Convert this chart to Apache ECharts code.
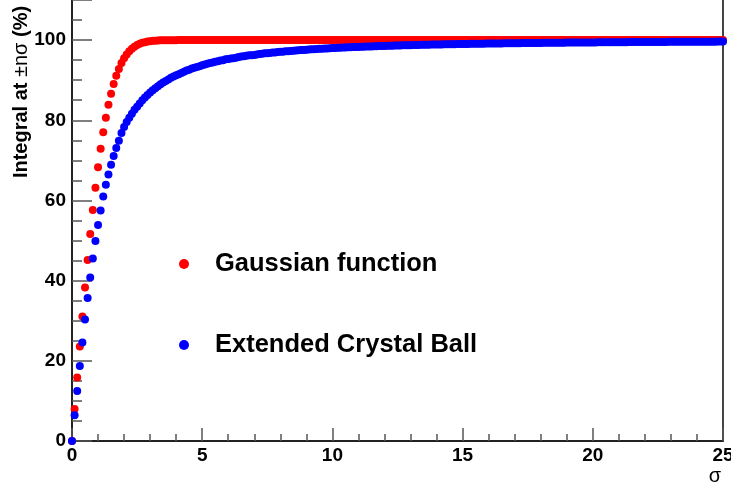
<!DOCTYPE html>
<html>
<head>
<meta charset="utf-8">
<script src="https://cdn.jsdelivr.net/npm/echarts@6/dist/echarts.min.js"></script>
<style>
  html, body { margin: 0; padding: 0; background: #fff; }
  #chart { width: 731px; height: 490px; }
</style>
</head>
<body>
<div id="chart"></div>
<script>
// n (in units of sigma), step 0.1
const sigma = [
  0, 0.1, 0.2, 0.3, 0.4, 0.5, 0.6, 0.7, 0.8, 0.9, 1,
  1.1, 1.2, 1.3, 1.4, 1.5, 1.6, 1.7, 1.8, 1.9, 2,
  2.1, 2.2, 2.3, 2.4, 2.5, 2.6, 2.7, 2.8, 2.9, 3,
  3.1, 3.2, 3.3, 3.4, 3.5, 3.6, 3.7, 3.8, 3.9, 4,
  4.1, 4.2, 4.3, 4.4, 4.5, 4.6, 4.7, 4.8, 4.9, 5,
  5.1, 5.2, 5.3, 5.4, 5.5, 5.6, 5.7, 5.8, 5.9, 6,
  6.1, 6.2, 6.3, 6.4, 6.5, 6.6, 6.7, 6.8, 6.9, 7,
  7.1, 7.2, 7.3, 7.4, 7.5, 7.6, 7.7, 7.8, 7.9, 8,
  8.1, 8.2, 8.3, 8.4, 8.5, 8.6, 8.7, 8.8, 8.9, 9,
  9.1, 9.2, 9.3, 9.4, 9.5, 9.6, 9.7, 9.8, 9.9, 10,
  10.1, 10.2, 10.3, 10.4, 10.5, 10.6, 10.7, 10.8, 10.9, 11,
  11.1, 11.2, 11.3, 11.4, 11.5, 11.6, 11.7, 11.8, 11.9, 12,
  12.1, 12.2, 12.3, 12.4, 12.5, 12.6, 12.7, 12.8, 12.9, 13,
  13.1, 13.2, 13.3, 13.4, 13.5, 13.6, 13.7, 13.8, 13.9, 14,
  14.1, 14.2, 14.3, 14.4, 14.5, 14.6, 14.7, 14.8, 14.9, 15,
  15.1, 15.2, 15.3, 15.4, 15.5, 15.6, 15.7, 15.8, 15.9, 16,
  16.1, 16.2, 16.3, 16.4, 16.5, 16.6, 16.7, 16.8, 16.9, 17,
  17.1, 17.2, 17.3, 17.4, 17.5, 17.6, 17.7, 17.8, 17.9, 18,
  18.1, 18.2, 18.3, 18.4, 18.5, 18.6, 18.7, 18.8, 18.9, 19,
  19.1, 19.2, 19.3, 19.4, 19.5, 19.6, 19.7, 19.8, 19.9, 20,
  20.1, 20.2, 20.3, 20.4, 20.5, 20.6, 20.7, 20.8, 20.9, 21,
  21.1, 21.2, 21.3, 21.4, 21.5, 21.6, 21.7, 21.8, 21.9, 22,
  22.1, 22.2, 22.3, 22.4, 22.5, 22.6, 22.7, 22.8, 22.9, 23,
  23.1, 23.2, 23.3, 23.4, 23.5, 23.6, 23.7, 23.8, 23.9, 24,
  24.1, 24.2, 24.3, 24.4, 24.5, 24.6, 24.7, 24.8, 24.9, 25
];

// integral within +-n sigma (%), Gaussian
const gaussian = [
  0, 7.97, 15.85, 23.58, 31.08, 38.29, 45.15, 51.61, 57.63, 63.19, 68.27,
  72.87, 76.99, 80.64, 83.85, 86.64, 89.04, 91.09, 92.81, 94.26, 95.45,
  96.43, 97.22, 97.86, 98.36, 98.76, 99.07, 99.31, 99.49, 99.63, 99.73,
  99.81, 99.86, 99.9, 99.93, 99.95, 99.97, 99.98, 99.99, 99.99, 99.99,
  100, 100, 100, 100, 100, 100, 100, 100, 100, 100,
  100, 100, 100, 100, 100, 100, 100, 100, 100, 100,
  100, 100, 100, 100, 100, 100, 100, 100, 100, 100,
  100, 100, 100, 100, 100, 100, 100, 100, 100, 100,
  100, 100, 100, 100, 100, 100, 100, 100, 100, 100,
  100, 100, 100, 100, 100, 100, 100, 100, 100, 100,
  100, 100, 100, 100, 100, 100, 100, 100, 100, 100,
  100, 100, 100, 100, 100, 100, 100, 100, 100, 100,
  100, 100, 100, 100, 100, 100, 100, 100, 100, 100,
  100, 100, 100, 100, 100, 100, 100, 100, 100, 100,
  100, 100, 100, 100, 100, 100, 100, 100, 100, 100,
  100, 100, 100, 100, 100, 100, 100, 100, 100, 100,
  100, 100, 100, 100, 100, 100, 100, 100, 100, 100,
  100, 100, 100, 100, 100, 100, 100, 100, 100, 100,
  100, 100, 100, 100, 100, 100, 100, 100, 100, 100,
  100, 100, 100, 100, 100, 100, 100, 100, 100, 100,
  100, 100, 100, 100, 100, 100, 100, 100, 100, 100,
  100, 100, 100, 100, 100, 100, 100, 100, 100, 100,
  100, 100, 100, 100, 100, 100, 100, 100, 100, 100,
  100, 100, 100, 100, 100, 100, 100, 100, 100, 100,
  100, 100, 100, 100, 100, 100, 100, 100, 100, 100
];

// integral within +-n sigma (%), extended Crystal Ball
const crystalBall = [
  0, 6.4, 12.5, 18.7, 24.6, 30.3, 35.7, 40.8, 45.5, 49.9, 53.9,
  57.5, 61.0, 63.9, 66.5, 68.9, 71.1, 73.1, 74.9, 76.8, 78.3,
  79.6, 80.6, 81.6, 82.6, 83.4, 84.2, 85.0, 85.7, 86.3, 86.9,
  87.5, 88.0, 88.5, 89.0, 89.4, 89.8, 90.2, 90.6, 90.9, 91.2,
  91.5, 91.8, 92.1, 92.4, 92.6, 92.9, 93.1, 93.3, 93.5, 93.7,
  93.9, 94.1, 94.3, 94.4, 94.6, 94.7, 94.9, 95.0, 95.2, 95.3,
  95.4, 95.5, 95.6, 95.8, 95.9, 96.0, 96.1, 96.2, 96.2, 96.3,
  96.4, 96.5, 96.6, 96.7, 96.7, 96.8, 96.9, 96.9, 97.0, 97.1,
  97.1, 97.2, 97.2, 97.3, 97.35, 97.4, 97.45, 97.5, 97.55, 97.6,
  97.64, 97.69, 97.73, 97.77, 97.81, 97.85, 97.89, 97.92, 97.96, 98.0,
  98.03, 98.06, 98.1, 98.13, 98.16, 98.19, 98.22, 98.25, 98.28, 98.3,
  98.33, 98.36, 98.38, 98.41, 98.43, 98.46, 98.48, 98.5, 98.52, 98.55,
  98.57, 98.59, 98.61, 98.63, 98.65, 98.67, 98.69, 98.7, 98.72, 98.74,
  98.76, 98.77, 98.79, 98.81, 98.82, 98.84, 98.85, 98.87, 98.88, 98.9,
  98.91, 98.92, 98.94, 98.95, 98.96, 98.98, 98.99, 99.0, 99.01, 99.03,
  99.04, 99.05, 99.06, 99.07, 99.08, 99.09, 99.1, 99.11, 99.12, 99.13,
  99.14, 99.15, 99.16, 99.17, 99.18, 99.19, 99.2, 99.21, 99.22, 99.23,
  99.23, 99.24, 99.25, 99.26, 99.27, 99.27, 99.28, 99.29, 99.3, 99.3,
  99.31, 99.32, 99.32, 99.33, 99.34, 99.34, 99.35, 99.36, 99.36, 99.37,
  99.38, 99.38, 99.39, 99.39, 99.4, 99.4, 99.41, 99.42, 99.42, 99.43,
  99.43, 99.44, 99.44, 99.45, 99.45, 99.46, 99.46, 99.47, 99.47, 99.48,
  99.48, 99.49, 99.49, 99.5, 99.5, 99.5, 99.51, 99.51, 99.52, 99.52,
  99.52, 99.53, 99.53, 99.54, 99.54, 99.54, 99.55, 99.55, 99.56, 99.56,
  99.56, 99.57, 99.57, 99.57, 99.58, 99.58, 99.58, 99.59, 99.59, 99.59,
  99.6, 99.6, 99.6, 99.6, 99.61, 99.61, 99.61, 99.62, 99.62, 99.62
];

const seriesNames = ["Gaussian function", "Extended Crystal Ball"];
const xTicks = [0, 5, 10, 15, 20, 25];
const yTicks = [0, 20, 40, 60, 80, 100];

const font = "'Liberation Sans', Arial, Helvetica, sans-serif";
const axisColor = "#222";
const tickColor = "#555";

const pairs = (ys) => sigma.map((x, i) => [x, ys[i]]);

const chart = echarts.init(document.getElementById("chart"), null, { renderer: "canvas" });

chart.setOption({
  animation: false,
  backgroundColor: "#fff",
  grid: { left: 72, right: 8, top: 0, bottom: 49, containLabel: false, outerBoundsMode: "none" },
  legend: {
    orient: "vertical",
    left: 174,
    top: 246,
    itemWidth: 52,
    itemHeight: 10,
    itemGap: 55,
    icon: "circle",
    textStyle: { fontFamily: font, fontWeight: "bold", fontSize: 25.5, color: "#000" },
    data: seriesNames
  },
  xAxis: {
    type: "value",
    min: xTicks[0],
    max: xTicks[xTicks.length - 1],
    interval: 5,
    axisLine: { lineStyle: { color: axisColor, width: 2 } },
    axisTick: { inside: true, length: 13, lineStyle: { color: tickColor, width: 1.5 } },
    minorTick: { show: true, splitNumber: 5, length: 7, lineStyle: { color: tickColor, width: 1.5 } },
    splitLine: { show: false },
    axisLabel: { fontFamily: font, fontWeight: "bold", fontSize: 19, color: "#000", margin: 5 }
  },
  yAxis: [
    {
      // major ticks + labels
      type: "value",
      min: 0,
      max: 110,
      interval: 20,
      axisLine: { show: true, lineStyle: { color: axisColor, width: 2 } },
      axisTick: { show: true, inside: true, length: 20, lineStyle: { color: tickColor, width: 1.5 } },
      splitLine: { show: false },
      axisLabel: {
        fontFamily: font, fontWeight: "bold", fontSize: 19, color: "#000", margin: 6,
        formatter: (v) => (yTicks.indexOf(v) >= 0 ? String(v) : "")
      }
    },
    {
      // minor ticks every 5
      type: "value",
      position: "left",
      min: 0,
      max: 110,
      interval: 5,
      axisLine: { show: false },
      axisTick: { show: true, inside: true, length: 10, lineStyle: { color: tickColor, width: 1.5 } },
      axisLabel: { show: false },
      splitLine: { show: false }
    },
    {
      // right frame
      type: "value",
      position: "right",
      min: 0,
      max: 110,
      axisLine: { show: true, lineStyle: { color: "#444", width: 2 } },
      axisTick: { show: false },
      axisLabel: { show: false },
      splitLine: { show: false }
    }
  ],
  series: [
    {
      name: seriesNames[0],
      type: "scatter",
      symbol: "circle",
      symbolSize: 8,
      itemStyle: { color: "#ff0000", opacity: 1 },
      data: pairs(gaussian),
      z: 2
    },
    {
      name: seriesNames[1],
      type: "scatter",
      symbol: "circle",
      symbolSize: 8,
      itemStyle: { color: "#0000ff", opacity: 1 },
      data: pairs(crystalBall),
      z: 3
    }
  ],
  graphic: [
    {
      type: "text",
      x: 21,
      y: 92,
      rotation: Math.PI / 2,
      style: {
        text: "{b|Integral at }{n|±nσ}{b| (%)}",
        align: "center",
        verticalAlign: "middle",
        rich: {
          b: { fontFamily: font, fontWeight: "bold", fontSize: 20, fill: "#000" },
          n: { fontFamily: font, fontWeight: "normal", fontSize: 20, fill: "#000" }
        }
      }
    },
    {
      type: "text",
      x: 715,
      y: 476,
      style: {
        text: "σ",
        align: "center",
        verticalAlign: "middle",
        fontFamily: font,
        fontSize: 20,
        fill: "#000"
      }
    }
  ]
});
</script>
</body>
</html>
